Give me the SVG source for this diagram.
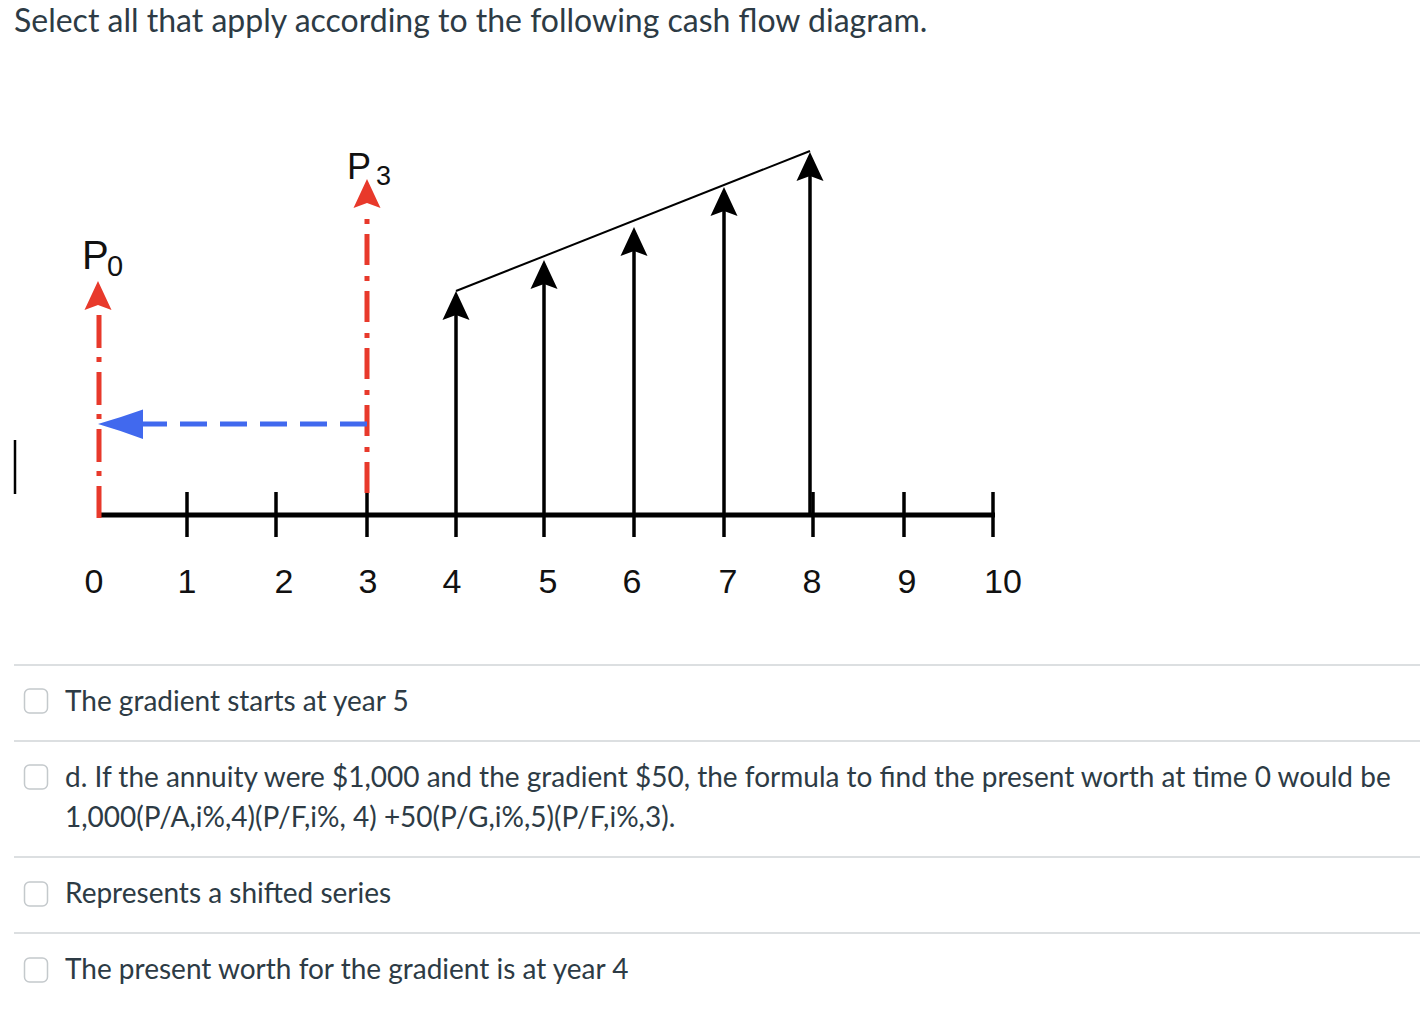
<svg xmlns="http://www.w3.org/2000/svg" xmlns:xlink="http://www.w3.org/1999/xlink" width="1420" height="1032" viewBox="0 0 1420 1032">
<style>
.q{font-family:Lato,"Open Sans","Liberation Sans",sans-serif;fill:#2d3b45;font-size:28px}
.t{font-size:32px}
.n{font-family:"Liberation Sans",Arial,sans-serif;fill:#111;font-size:34px;text-anchor:middle}
.p{font-family:"Liberation Sans",Arial,sans-serif;fill:#111}
.ax{stroke:#000;stroke-width:5;fill:none}
.tk{stroke:#000;stroke-width:3.5;fill:none}
.cf{stroke:#000;stroke-width:3.5;fill:none}
.red{stroke:#e8392b;stroke-width:5;fill:none}
.blue{stroke:#4169ee;stroke-width:5;fill:none;stroke-dasharray:27 13}
.sep{stroke:#dcdfe1;stroke-width:2}
.cb{fill:#fff;stroke:#c4c9cc;stroke-width:1.5}
</style>
<defs>
<path id="ah" d="M0,0 L13.5,29 L0,24 L-13.5,29 Z"/>
</defs>
<rect width="1420" height="1032" fill="#fff"/>
<text class="q t" x="14" y="32">Select all that apply according to the following cash flow diagram.</text>
<line x1="15" y1="440" x2="15" y2="494" stroke="#000" stroke-width="2.5"/>

<g id="axis">
<line class="ax" x1="97" y1="515" x2="995" y2="515"/>
<line class="tk" x1="187" y1="492" x2="187" y2="537"/>
<line class="tk" x1="276" y1="492" x2="276" y2="537"/>
<line class="tk" x1="367" y1="492" x2="367" y2="537"/>
<line class="tk" x1="456" y1="515" x2="456" y2="537"/>
<line class="tk" x1="544" y1="515" x2="544" y2="537"/>
<line class="tk" x1="634" y1="515" x2="634" y2="537"/>
<line class="tk" x1="724" y1="515" x2="724" y2="537"/>
<line class="tk" x1="813" y1="492" x2="813" y2="537"/>
<line class="tk" x1="904" y1="492" x2="904" y2="537"/>
<line class="tk" x1="993" y1="492" x2="993" y2="537"/>
<text class="n" x="94" y="593">0</text>
<text class="n" x="187" y="593">1</text>
<text class="n" x="284" y="593">2</text>
<text class="n" x="368" y="593">3</text>
<text class="n" x="452" y="593">4</text>
<text class="n" x="548" y="593">5</text>
<text class="n" x="632" y="593">6</text>
<text class="n" x="728" y="593">7</text>
<text class="n" x="812" y="593">8</text>
<text class="n" x="907" y="593">9</text>
<text class="n" x="1003" y="593">10</text>
</g>

<g id="P0">
<text class="p" x="82" y="269" font-size="40">P</text>
<text class="p" x="107" y="276" font-size="29">0</text>
<use xlink:href="#ah" x="98" y="281" fill="#e8392b"/>
</g>
<g id="P3">
<text class="p" x="347" y="179" font-size="36">P</text>
<text class="p" x="376" y="185" font-size="27">3</text>
<use xlink:href="#ah" x="367" y="179" fill="#e8392b"/>
</g>

<g id="connectors">
<path class="red" d="M99,315 V518" stroke-dasharray="33 9 5 10"/>
<path class="red" d="M367,219 V496" stroke-dasharray="5 10 31 11"/>
<path class="blue" d="M367,424 H140"/>
<path d="M98,424 Q122,417 143,409.5 L143,439 Q122,431 98,424 Z" fill="#4169ee"/>
<line class="cf" x1="456" y1="515" x2="456" y2="312"/>
<line class="cf" x1="544" y1="515" x2="544" y2="281"/>
<line class="cf" x1="634" y1="515" x2="634" y2="248"/>
<line class="cf" x1="724" y1="515" x2="724" y2="208"/>
<line class="cf" x1="810" y1="515" x2="810" y2="173"/>
<line x1="456" y1="291" x2="810" y2="151" stroke="#000" stroke-width="2"/>
</g>
<g id="cashflows">
<use xlink:href="#ah" x="456" y="291"/>
<use xlink:href="#ah" x="544" y="260"/>
<use xlink:href="#ah" x="634" y="227"/>
<use xlink:href="#ah" x="724" y="187"/>
<use xlink:href="#ah" x="810" y="152"/>
</g>

<g id="options">
<line class="sep" x1="14" y1="665" x2="1420" y2="665"/>
<line class="sep" x1="14" y1="741" x2="1420" y2="741"/>
<line class="sep" x1="14" y1="857" x2="1420" y2="857"/>
<line class="sep" x1="14" y1="933" x2="1420" y2="933"/>
<g id="opt1">
<rect class="cb" x="24.5" y="689" width="23" height="24" rx="5"/>
<text class="q" x="65" y="711">The gradient starts at year 5</text>
</g>
<g id="opt2">
<rect class="cb" x="24.5" y="765" width="23" height="24" rx="5"/>
<text class="q" x="65" y="787">d. If the annuity were $1,000 and the gradient $50, the formula to find the present worth at time 0 would be</text>
<text class="q" x="65" y="827">1,000(P/A,i%,4)(P/F,i%, 4) +50(P/G,i%,5)(P/F,i%,3).</text>
</g>
<g id="opt3">
<rect class="cb" x="24.5" y="882" width="23" height="24" rx="5"/>
<text class="q" x="65" y="903">Represents a shifted series</text>
</g>
<g id="opt4">
<rect class="cb" x="24.5" y="958" width="23" height="24" rx="5"/>
<text class="q" x="65" y="979">The present worth for the gradient is at year 4</text>
</g>
</g>
</svg>
